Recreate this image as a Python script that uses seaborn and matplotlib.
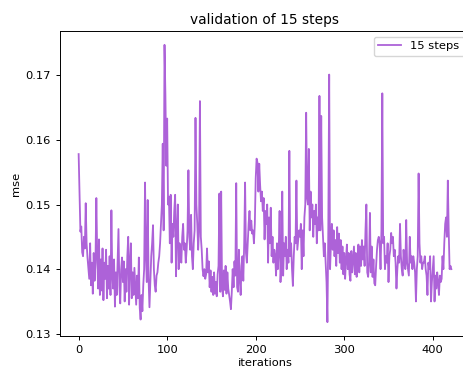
import numpy as np
import pandas as pd
import matplotlib
matplotlib.use("Agg")
import matplotlib.pyplot as plt
import seaborn as sns

title = "validation of 15 steps"
series_label = "15 steps"
x_label = "iterations"
y_label = "mse"

mse = [
    0.1578, 0.1517, 0.1458, 0.1466, 0.1426, 0.1420, 0.1450, 0.1432, 0.1502, 0.1440,
    0.1418, 0.1402, 0.1385, 0.1440, 0.1375, 0.1410, 0.1362, 0.1425, 0.1382, 0.1410,
    0.1510, 0.1420, 0.1370, 0.1446, 0.1360, 0.1415, 0.1367, 0.1432, 0.1352, 0.1410,
    0.1385, 0.1430, 0.1355, 0.1405, 0.1370, 0.1420, 0.1360, 0.1491, 0.1390, 0.1370,
    0.1415, 0.1342, 0.1395, 0.1360, 0.1410, 0.1462, 0.1375, 0.1347, 0.1400, 0.1418,
    0.1380, 0.1412, 0.1350, 0.1400, 0.1365, 0.1420, 0.1450, 0.1345, 0.1410, 0.1440,
    0.1355, 0.1395, 0.1360, 0.1402, 0.1375, 0.1345, 0.1390, 0.1355, 0.1418, 0.1340,
    0.1322, 0.1360, 0.1335, 0.1375, 0.1400, 0.1534, 0.1420, 0.1380, 0.1507, 0.1385,
    0.1341, 0.1380, 0.1420, 0.1440, 0.1468, 0.1400, 0.1375, 0.1365, 0.1390, 0.1395,
    0.1410, 0.1420, 0.1440, 0.1470, 0.1500, 0.1594, 0.1460, 0.1747, 0.1670, 0.1560,
    0.1633, 0.1500, 0.1512, 0.1440, 0.1515, 0.1410, 0.1470, 0.1450, 0.1490, 0.1515,
    0.1389, 0.1460, 0.1500, 0.1400, 0.1440, 0.1420, 0.1410, 0.1450, 0.1470, 0.1430,
    0.1440, 0.1410, 0.1430, 0.1460, 0.1553, 0.1450, 0.1430, 0.1484, 0.1420, 0.1400,
    0.1440, 0.1460, 0.1634, 0.1500, 0.1470, 0.1430, 0.1460, 0.1660, 0.1450, 0.1430,
    0.1400, 0.1389, 0.1400, 0.1385, 0.1392, 0.1432, 0.1395, 0.1412, 0.1372, 0.1398,
    0.1365, 0.1388, 0.1360, 0.1395, 0.1362, 0.1380, 0.1358, 0.1392, 0.1405, 0.1517,
    0.1365, 0.1520, 0.1372, 0.1358, 0.1398, 0.1368, 0.1405, 0.1362, 0.1395, 0.1370,
    0.1360, 0.1350, 0.1338, 0.1365, 0.1400, 0.1372, 0.1412, 0.1390, 0.1533, 0.1372,
    0.1365, 0.1430, 0.1385, 0.1360, 0.1405, 0.1420, 0.1382, 0.1440, 0.1534, 0.1425,
    0.1410, 0.1440, 0.1470, 0.1490, 0.1460, 0.1475, 0.1455, 0.1460, 0.1440, 0.1470,
    0.1540, 0.1571, 0.1565, 0.1520, 0.1563, 0.1530, 0.1505, 0.1520, 0.1490, 0.1510,
    0.1446, 0.1490, 0.1470, 0.1500, 0.1410, 0.1480, 0.1440, 0.1495, 0.1420, 0.1450,
    0.1410, 0.1430, 0.1420, 0.1390, 0.1440, 0.1400, 0.1430, 0.1490, 0.1380, 0.1410,
    0.1520, 0.1390, 0.1440, 0.1420, 0.1450, 0.1400, 0.1430, 0.1410, 0.1583, 0.1420,
    0.1440, 0.1400, 0.1374, 0.1420, 0.1450, 0.1440, 0.1537, 0.1430, 0.1445, 0.1460,
    0.1450, 0.1470, 0.1400, 0.1460, 0.1420, 0.1480, 0.1500, 0.1642, 0.1510, 0.1500,
    0.1586, 0.1460, 0.1520, 0.1480, 0.1500, 0.1450, 0.1490, 0.1470, 0.1500, 0.1440,
    0.1480, 0.1460, 0.1668, 0.1460, 0.1637, 0.1480, 0.1450, 0.1420, 0.1440, 0.1410,
    0.1380, 0.1318, 0.1460, 0.1701, 0.1400, 0.1440, 0.1470, 0.1430, 0.1460, 0.1420,
    0.1445, 0.1405, 0.1465, 0.1425, 0.1455, 0.1410, 0.1445, 0.1400, 0.1435, 0.1392,
    0.1425, 0.1385, 0.1415, 0.1438, 0.1400, 0.1425, 0.1392, 0.1382, 0.1428, 0.1395,
    0.1415, 0.1435, 0.1392, 0.1425, 0.1388, 0.1415, 0.1438, 0.1395, 0.1435, 0.1405,
    0.1445, 0.1415, 0.1435, 0.1405, 0.1460, 0.1500, 0.1395, 0.1388, 0.1410, 0.1487,
    0.1395, 0.1435, 0.1388, 0.1415, 0.1378, 0.1375, 0.1405, 0.1430, 0.1445, 0.1450,
    0.1440, 0.1400, 0.1460, 0.1672, 0.1440, 0.1450, 0.1400, 0.1420, 0.1410, 0.1440,
    0.1380, 0.1420, 0.1430, 0.1456, 0.1440, 0.1450, 0.1420, 0.1430, 0.1410, 0.1370,
    0.1400, 0.1420, 0.1410, 0.1470, 0.1420, 0.1400, 0.1390, 0.1430, 0.1410, 0.1400,
    0.1476, 0.1410, 0.1400, 0.1390, 0.1450, 0.1410, 0.1420, 0.1400, 0.1420, 0.1410,
    0.1395, 0.1350, 0.1400, 0.1420, 0.1548, 0.1440, 0.1410, 0.1420, 0.1400, 0.1410,
    0.1410, 0.1420, 0.1400, 0.1390, 0.1360, 0.1410, 0.1400, 0.1420, 0.1350, 0.1380,
    0.1400, 0.1420, 0.1350, 0.1390, 0.1370, 0.1395, 0.1380, 0.1360, 0.1390, 0.1380,
    0.1385, 0.1420, 0.1400, 0.1440, 0.1470, 0.1480, 0.1450, 0.1537, 0.1460, 0.1400,
    0.1405, 0.1400,
]
iterations = list(range(len(mse)))

df = pd.DataFrame({"iterations": iterations, "mse": mse, "series": series_label})

plt.rcParams["font.family"] = ["DejaVu Sans"]
fig = plt.figure(figsize=(4.63, 3.69), dpi=100)
ax = fig.add_axes([60 / 463, 33 / 369, 410 / 463, 305 / 369])

sns.lineplot(data=df, x="iterations", y="mse", hue="series",
             palette=["#ad62d8"], linewidth=1.3, ax=ax)

ax.set_title(title, fontsize=9.9, pad=5)
ax.set_xlabel(x_label, fontsize=8.25, labelpad=2)
ax.set_ylabel(y_label, fontsize=8.25, labelpad=3)
ax.tick_params(labelsize=8.25, length=3, width=0.7)
for s in ax.spines.values():
    s.set_linewidth(0.7)
ax.margins(x=0.05, y=0.05)
ax.legend(loc="upper right", fontsize=8.25, title=None, framealpha=0.8)

fig.savefig("out.png", dpi=100)
